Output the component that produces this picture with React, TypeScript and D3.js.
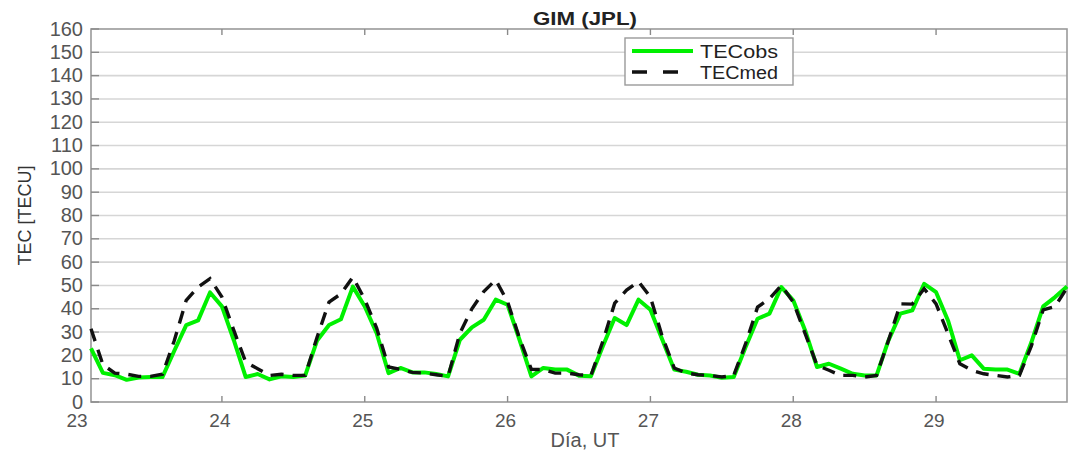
import { useMemo } from 'react';
import * as d3 from 'd3';

// 2-hourly GIM samples, first one at day 23, 02 UT
const startDay = 23 + 2 / 24;
const stepDay = 2 / 24;

const tecObs = [
    23, 12.5, 11.5, 9.5, 10.5, 10.7, 10.7, 22, 33, 35, 47, 41,
    26.5, 10.7, 12, 9.7, 11, 10.7, 11.4, 26.4, 33, 35.5, 49.5, 41,
    29.5, 12.4, 14.6, 12.7, 12.7, 12, 11, 26.7, 32, 35.3, 43.9, 41.7,
    26.7, 11, 14.6, 13.9, 13.9, 11.3, 11, 23.9, 36, 33, 43.9, 39.6,
    26.7, 13.9, 13, 11.7, 11.4, 10.4, 10.7, 23.6, 35.7, 37.9, 49.3, 43.6,
    30.7, 15, 16.4, 14.3, 12.1, 11.4, 11.4, 26.4, 37.9, 39.3, 50.7, 47.1,
    35, 17.9, 20, 14.3, 13.9, 13.9, 12.1, 25.5, 41, 45, 49.5,
];

const tecMed = [
    31.4, 16, 12.4, 11.9, 11, 11, 11.9, 26.4, 43.6, 49.3, 52.9, 45,
    30.7, 17.1, 14.3, 11.4, 11.9, 11.4, 11.4, 27.9, 42.9, 46.4, 53.6, 44,
    31.7, 15, 14, 12.7, 12.4, 11.7, 11, 29.6, 40, 47.4, 52.4, 43,
    27.4, 14, 13.9, 12.4, 12.4, 11.7, 11.3, 26, 42.4, 48, 51.7, 45,
    28, 14.6, 12.4, 11.7, 11.4, 10.7, 11.4, 25, 40.7, 44.3, 50, 42.9,
    29.3, 15.7, 13.6, 11.4, 11.4, 10.7, 11.4, 26.4, 42.1, 42, 48.6, 42.1,
    29.3, 16.4, 13.6, 12.1, 11.4, 10.7, 11.4, 24, 39.5, 41, 49,
];

const dayTicks = [23, 24, 25, 26, 27, 28, 29];
const tecTicks = [0, 10, 20, 30, 40, 50, 60, 70, 80, 90, 100, 110, 120, 130, 140, 150, 160];

const seriesNames = ['TECobs', 'TECmed'];

const W = 1070;
const H = 452;
const marginLeft = 91;
const marginRight = 3;
const marginTop = 29;
const marginBottom = 50;

const font = '"Liberation Sans", Arial, sans-serif';
const green = '#00f000';

export default function App() {
    const { x, y, obsPath, medPath } = useMemo(() => {
        const lastDay = startDay + (tecObs.length - 1) * stepDay;
        const x = d3.scaleLinear().domain([startDay, lastDay]).range([marginLeft, W - marginRight]);
        const y = d3.scaleLinear().domain([0, 160]).range([H - marginBottom, marginTop]);
        const line = d3.line<number>()
            .x((_, i) => x(startDay + i * stepDay))
            .y((d) => y(d));
        return { x, y, obsPath: line(tecObs) || '', medPath: line(tecMed) || '' };
    }, []);

    const [x0, x1] = x.range();
    const [yb, yt] = y.range();

    return (
        <svg width={W} height={H} style={{ position: 'absolute', left: 0, top: 0, background: 'white' }}>
            {/* grid */}
            <g>
                {tecTicks.filter((t) => t > 0 && t < 160).map((t) => (
                    <line key={t} x1={x0} x2={x1} y1={y(t)} y2={y(t)} stroke="#d6d6d6" strokeWidth={1.6} />
                ))}
            </g>

            {/* axis box */}
            <rect x={x0} y={yt} width={x1 - x0} height={yb - yt} fill="none" stroke="#9a9a9a" strokeWidth={1.6} />
            <g stroke="#8a8a8a" strokeWidth={1.4}>
                {dayTicks.filter((d) => x(d) > x0 + 1).map((d) => (
                    <g key={d}>
                        <line x1={x(d)} x2={x(d)} y1={yb} y2={yb - 6} />
                        <line x1={x(d)} x2={x(d)} y1={yt} y2={yt + 6} />
                    </g>
                ))}
                {tecTicks.map((t) => (
                    <line key={t} x1={x0} x2={x0 + 8} y1={y(t)} y2={y(t)} />
                ))}
            </g>

            {/* series */}
            <path d={obsPath} fill="none" stroke={green} strokeWidth={4} strokeLinejoin="round" />
            <path d={medPath} fill="none" stroke="#111" strokeWidth={3.4} strokeDasharray="13 9" />

            {/* tick labels */}
            <g fontFamily={font} fontSize={20} fill="#555">
                {tecTicks.map((t) => (
                    <text key={t} x={x0 - 8} y={y(t) + 6.5} textAnchor="end">{t}</text>
                ))}
            </g>
            <g fontFamily={font} fontSize={19} fill="#555">
                {dayTicks.map((d) => (
                    <text key={d} x={x(d) - 2} y={427} textAnchor="middle">{d}</text>
                ))}
            </g>

            {/* labels */}
            <text x={(x0 + x1) / 2 + 6} y={25} textAnchor="middle" fontFamily={font} fontSize={18} fontWeight="bold" fill="#222"
                textLength={104} lengthAdjust="spacingAndGlyphs">GIM (JPL)</text>
            <text x={585} y={447} textAnchor="middle" fontFamily={font} fontSize={20} fill="#555">Día, UT</text>
            <text transform={`translate(31, ${(yt + yb) / 2}) rotate(-90)`} textAnchor="middle" fontFamily={font} fontSize={18} fill="#333">
                TEC [TECU]
            </text>

            {/* legend */}
            <g>
                <rect x={625} y={38} width={168} height={47} fill="white" stroke="#9a9a9a" strokeWidth={1.4} />
                <line x1={632} x2={693} y1={51} y2={51} stroke={green} strokeWidth={4} />
                <line x1={632} x2={693} y1={72} y2={72} stroke="#111" strokeWidth={3.4} strokeDasharray="15 16" />
                {seriesNames.map((name, i) => (
                    <text key={name} x={700} y={57.5 + i * 21} fontFamily={font} fontSize={18} fill="#222"
                        textLength={78} lengthAdjust="spacingAndGlyphs">{name}</text>
                ))}
            </g>
        </svg>
    );
}
